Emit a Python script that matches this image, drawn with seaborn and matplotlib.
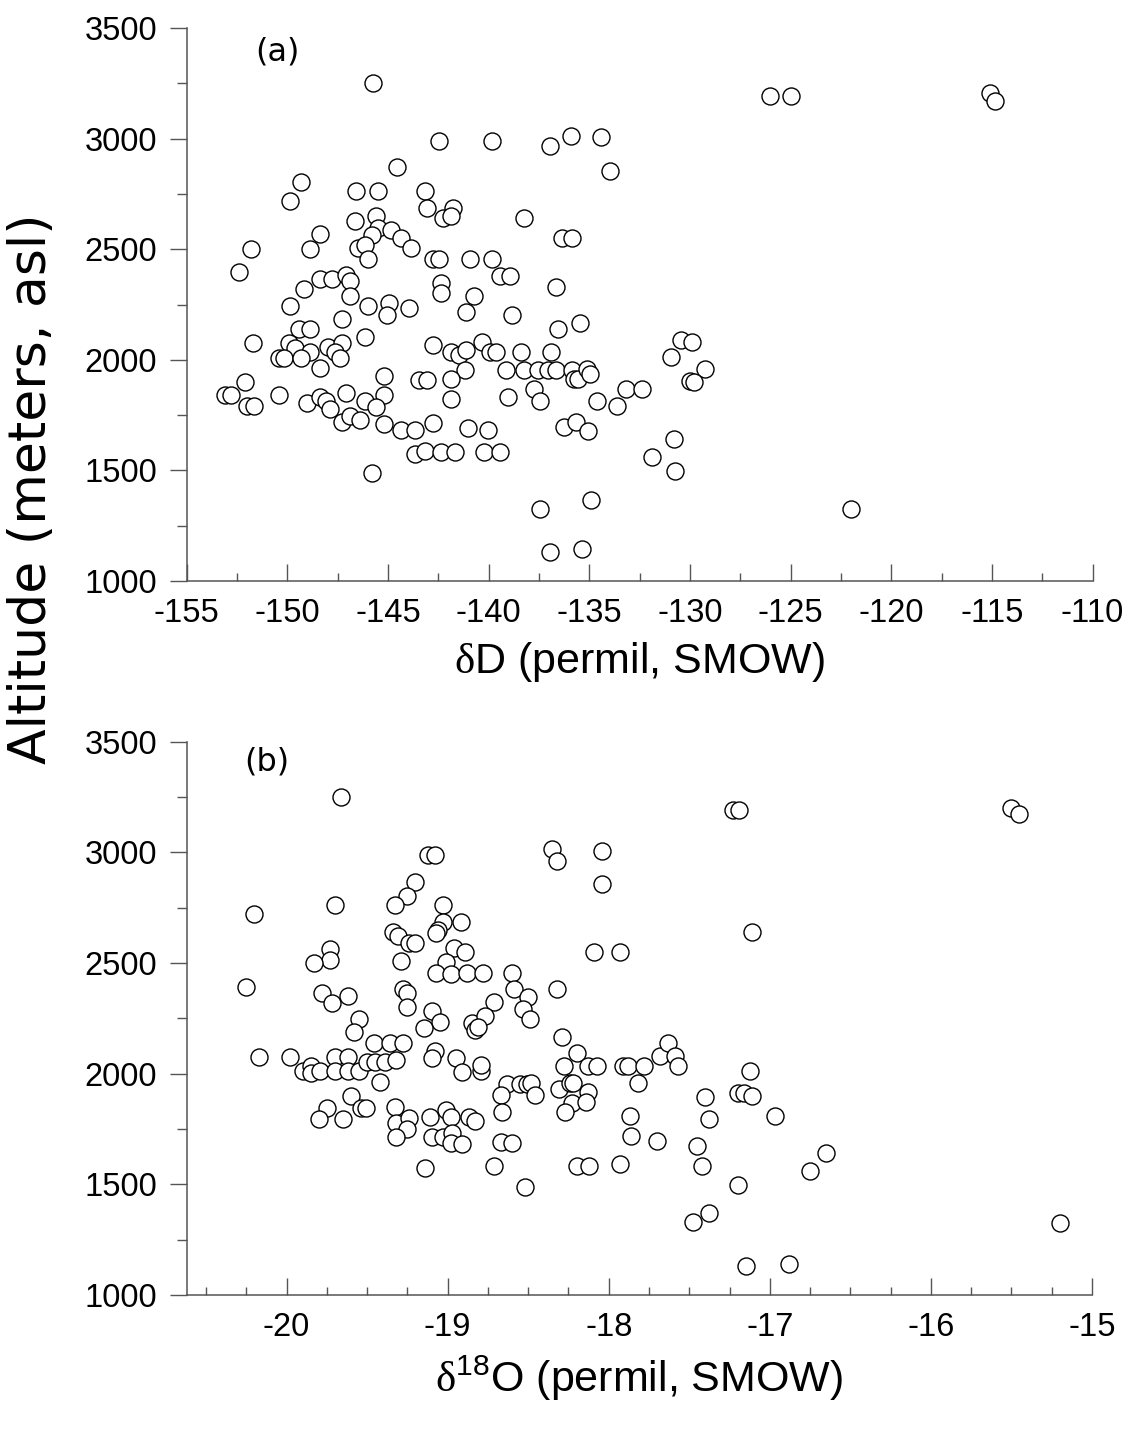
import numpy as np
import pandas as pd
import seaborn as sns
import matplotlib.pyplot as plt
from matplotlib.ticker import MultipleLocator

# --- data ---
# (a) deuterium vs altitude
dD = [-145.75, -142.45, -144.55, -149.3, -149.85, -146.6, -145.5, -143.15, -143.05, -141.75,
      -142.25, -141.85, -146.65, -145.6, -145.5, -145.8, -144.85, -144.35, -143.85, -148.4,
      -148.9, -151.8, -152.4, -146.5, -146.15, -146.0, -142.75, -142.45, -140.95, -142.35,
      -142.35, -140.75, -141.15, -148.4, -147.8, -147.1, -146.9, -149.15, -149.85, -146.9,
      -146.0, -144.95, -145.05, -143.95, -147.3, -149.4, -148.87, -146.15, -151.7, -149.9,
      -149.6, -148.9, -148.0, -147.3, -147.65, -150.4, -150.15, -149.3, -147.4, -148.4,
      -142.75, -141.85, -141.45, -141.15, -140.35, -139.95, -141.2, -141.85, -141.85, -145.2,
      -145.2, -143.45, -143.05, -152.1, -153.1, -152.8, -152.0, -151.65, -150.4, -149.0,
      -148.4, -148.1, -147.9, -147.1, -147.3, -146.9, -146.4, -146.15, -145.6, -145.2,
      -144.35, -143.65, -142.75, -141.05, -140.05, -143.65, -143.15, -142.35, -141.65, -140.25,
      -145.8, -139.85, -136.95, -135.9, -134.4, -133.95, -138.25, -136.35, -135.85, -139.85,
      -139.45, -138.95, -136.65, -138.85, -136.55, -135.45, -139.65, -138.4, -136.9, -139.15,
      -138.25, -137.55, -137.05, -136.65, -135.85, -135.75, -135.55, -135.1, -134.97, -137.75,
      -137.45, -139.05, -134.6, -133.6, -133.2, -132.4, -130.45, -129.9, -130.95, -129.25,
      -130.0, -129.8, -139.45, -136.25, -135.65, -135.05, -130.8, -131.9, -130.75, -134.9,
      -137.45, -136.95, -135.35, -126.0, -125.0, -115.1, -114.85, -122.0]
alt_a = [3250, 2988, 2870, 2806, 2720, 2761, 2761, 2761, 2686, 2686,
         2641, 2648, 2626, 2648, 2595, 2565, 2588, 2550, 2506, 2570,
         2500, 2500, 2395, 2506, 2521, 2457, 2457, 2457, 2457, 2348,
         2302, 2290, 2218, 2366, 2366, 2385, 2355, 2320, 2244, 2287,
         2244, 2257, 2203, 2234, 2183, 2138, 2138, 2105, 2075, 2075,
         2052, 2037, 2059, 2075, 2037, 2008, 2008, 2008, 2008, 1963,
         2067, 2037, 2022, 2044, 2082, 2037, 1955, 1915, 1824, 1925,
         1839, 1907, 1907, 1902, 1842, 1842, 1793, 1793, 1842, 1804,
         1834, 1812, 1777, 1852, 1717, 1747, 1729, 1812, 1787, 1711,
         1684, 1684, 1714, 1691, 1684, 1576, 1586, 1582, 1582, 1582,
         1489, 2990, 2965, 3012, 3006, 2855, 2641, 2550, 2550, 2457,
         2381, 2381, 2328, 2203, 2140, 2166, 2037, 2034, 2034, 1952,
         1952, 1952, 1952, 1952, 1952, 1915, 1915, 1960, 1937, 1868,
         1812, 1830, 1812, 1792, 1869, 1869, 2090, 2079, 2011, 1959,
         1905, 1898, 1582, 1696, 1719, 1676, 1643, 1561, 1496, 1368,
         1327, 1133, 1143, 3192, 3192, 3204, 3171, 1325]

# (b) oxygen-18 vs altitude
d18O = [-19.66, -19.12, -19.08, -19.20, -19.25, -19.33, -19.70, -20.20, -19.03, -19.03,
        -18.92, -19.06, -19.07, -19.34, -19.31, -19.24, -19.20, -18.96, -18.89, -19.01,
        -19.07, -18.98, -18.88, -18.78, -19.73, -19.73, -19.83, -19.29, -20.25, -19.78,
        -19.72, -19.62, -19.55, -19.28, -19.25, -19.25, -19.10, -19.05, -19.15, -18.85,
        -19.58, -18.83, -20.17, -19.98, -19.90, -19.85, -19.85, -19.79, -19.70, -19.70,
        -19.62, -19.62, -19.55, -19.50, -19.45, -19.39, -19.32, -19.42, -19.46, -19.36,
        -19.28, -19.08, -19.10, -18.95, -18.91, -18.79, -18.79, -19.60, -19.75, -19.80,
        -19.65, -19.54, -19.51, -19.33, -19.32, -19.24, -19.25, -19.32, -19.11, -19.01,
        -18.98, -19.10, -19.03, -18.97, -18.98, -18.91, -18.87, -18.83, -19.14, -17.23,
        -17.19, -18.35, -18.32, -18.04, -18.04, -17.11, -18.09, -17.93, -18.60, -18.59,
        -18.50, -18.53, -18.49, -18.71, -18.77, -18.81, -18.32, -18.29, -18.20, -18.28,
        -18.13, -18.07, -17.91, -17.88, -17.78, -17.82, -17.68, -17.63, -17.59, -17.57,
        -18.63, -18.55, -18.51, -18.48, -18.46, -18.67, -18.66, -18.31, -18.24, -18.22,
        -18.13, -18.23, -18.14, -18.27, -18.67, -18.60, -18.71, -18.52, -18.20, -18.12,
        -17.93, -17.87, -17.86, -17.70, -17.45, -17.42, -17.40, -17.38, -17.20, -17.16,
        -17.11, -17.12, -16.97, -17.20, -17.48, -17.38, -17.15, -15.50, -15.45, -16.65,
        -16.75, -16.88, -15.20]
alt_b = [3252, 2988, 2988, 2865, 2804, 2762, 2762, 2720, 2762, 2684,
         2684, 2649, 2637, 2642, 2622, 2592, 2589, 2567, 2549, 2503,
         2454, 2451, 2454, 2454, 2562, 2514, 2502, 2510, 2393, 2363,
         2321, 2352, 2246, 2381, 2363, 2300, 2283, 2235, 2205, 2228,
         2190, 2197, 2074, 2074, 2012, 2036, 2002, 2012, 2074, 2012,
         2074, 2012, 2012, 2052, 2052, 2052, 2062, 1964, 2140, 2140,
         2140, 2104, 2072, 2069, 2009, 2012, 2039, 1899, 1844, 1794,
         1794, 1844, 1844, 1851, 1779, 1798, 1750, 1713, 1806, 1836,
         1806, 1715, 1715, 1731, 1686, 1682, 1806, 1788, 1573, 3192,
         3192, 3014, 2962, 3007, 2856, 2642, 2549, 2549, 2454, 2381,
         2348, 2291, 2246, 2325, 2261, 2212, 2381, 2167, 2092, 2036,
         2036, 2036, 2036, 2036, 2036, 1959, 2080, 2140, 2080, 2036,
         1952, 1952, 1952, 1956, 1904, 1904, 1826, 1930, 1956, 1956,
         1919, 1869, 1873, 1828, 1690, 1686, 1583, 1489, 1583, 1583,
         1591, 1810, 1720, 1697, 1675, 1583, 1896, 1795, 1914, 1914,
         1901, 2014, 1810, 1497, 1328, 1369, 1132, 3198, 3172, 1640,
         1558, 1141, 1323]

yticks = [1000, 1500, 2000, 2500, 3000, 3500]
xticks_a = [-155, -150, -145, -140, -135, -130, -125, -120, -115, -110]
xticks_b = [-20, -19, -18, -17, -16, -15]

df_a = pd.DataFrame({"x": dD, "alt": alt_a})
df_b = pd.DataFrame({"x": d18O, "alt": alt_b})

sns.set_style("ticks")
plt.rcParams["font.family"] = ["Liberation Sans", "DejaVu Sans"]
plt.rcParams["text.color"] = "black"
plt.rcParams["axes.labelcolor"] = "black"
plt.rcParams["mathtext.fontset"] = "custom"
plt.rcParams["mathtext.rm"] = "Liberation Serif"
plt.rcParams["mathtext.sf"] = "Liberation Sans"

axc = "#555555"
fig = plt.figure(figsize=(11.33, 14.29), dpi=100)
ax1 = fig.add_axes([0.1648, 0.5934, 0.7995, 0.3870])
ax2 = fig.add_axes([0.1648, 0.0938, 0.7990, 0.3872])

panels = [
    (ax1, df_a, (-155, -110), xticks_a, 2.5, r"$\mathrm{\delta}$D (permil, SMOW)", "(a)", (-150.5, 3393)),
    (ax2, df_b, (-20.62, -15), xticks_b, 0.25, r"$\mathrm{\delta}^{\mathsf{18}}$O (permil, SMOW)", "(b)", (-20.12, 3406)),
]

for ax, df, xlim, xt, xminor, xlabel, tag, tagpos in panels:
    sns.scatterplot(data=df, x="x", y="alt", ax=ax, s=150, color="white",
                    edgecolor="black", linewidth=1.0, zorder=3, clip_on=False)
    ax.set_xlim(*xlim)
    ax.set_ylim(1000, 3500)
    ax.set_xticks(xt)
    ax.set_xticklabels([str(v) for v in xt])
    ax.xaxis.set_minor_locator(MultipleLocator(xminor))
    ax.set_yticks(yticks)
    ax.yaxis.set_minor_locator(MultipleLocator(250))
    for side in ["top", "right"]:
        ax.spines[side].set_visible(False)
    for side in ["left", "bottom"]:
        ax.spines[side].set_color(axc)
        ax.spines[side].set_linewidth(1.1)
    ax.tick_params(axis="y", which="major", direction="out", length=12.2, width=1.0,
                   color=axc, labelcolor="black", labelsize=23.5, pad=9)
    ax.tick_params(axis="y", which="minor", direction="out", length=7, width=1.0, color=axc)
    ax.tick_params(axis="x", which="major", direction="in", length=12.2, width=1.0,
                   color=axc, labelcolor="black", labelsize=23.5, pad=12)
    ax.tick_params(axis="x", which="minor", direction="in", length=6, width=1.0, color=axc)
    ax.set_xlabel(xlabel, fontsize=31, labelpad=8, color="black")
    ax.set_ylabel("")
    ax.text(tagpos[0], tagpos[1], tag, fontsize=23, family="DejaVu Sans",
            color="black", ha="center", va="center")

fig.text(0.028, 0.658, "Altitude (meters, asl)", rotation=90, fontsize=37.5,
         family="DejaVu Sans", color="black", ha="center", va="center")

plt.savefig("out.png", dpi=100)
plt.close()
